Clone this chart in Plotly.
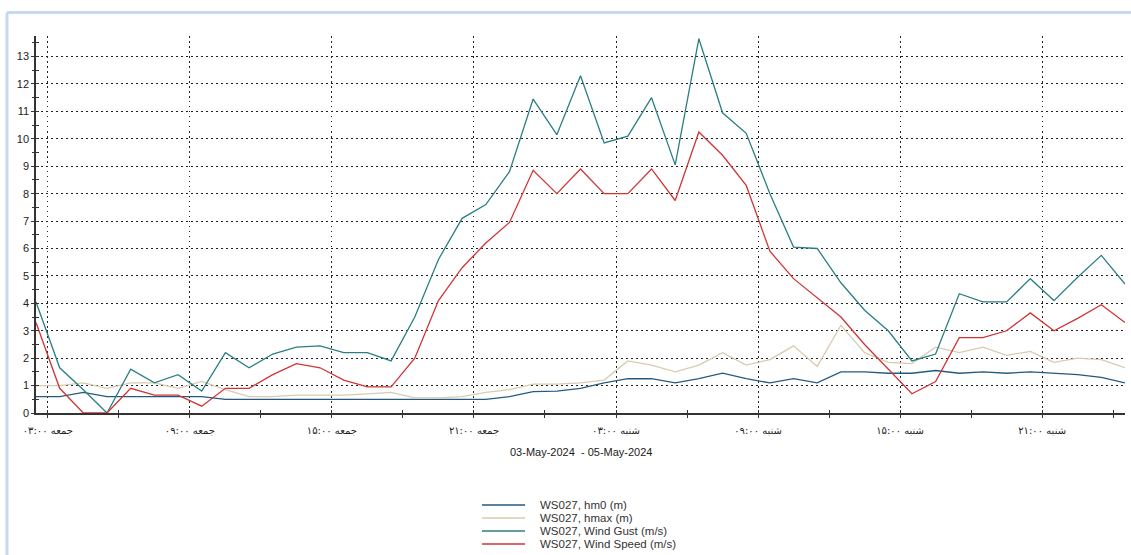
import pandas as pd
import plotly.graph_objects as go

# ---- data (hourly) ----
times = pd.date_range("2024-05-03 02:30", periods=47, freq="h")

hm0 = [0.6, 0.6, 0.75, 0.6, 0.6, 0.6, 0.6, 0.6, 0.5, 0.5,
       0.5, 0.5, 0.5, 0.5, 0.5, 0.5, 0.5, 0.5, 0.5, 0.5,
       0.6, 0.78, 0.8, 0.9, 1.1, 1.25, 1.25, 1.1, 1.25, 1.45,
       1.25, 1.1, 1.25, 1.1, 1.5, 1.5, 1.45, 1.45, 1.55, 1.45,
       1.5, 1.45, 1.5, 1.45, 1.4, 1.3, 1.1]

hmax = [1.0, 1.0, 1.1, 0.9, 1.1, 1.1, 0.9, 1.15, 0.85, 0.6,
        0.6, 0.65, 0.65, 0.65, 0.7, 0.75, 0.55, 0.55, 0.6, 0.75,
        0.85, 1.05, 1.05, 1.1, 1.2, 1.9, 1.75, 1.5, 1.75, 2.2,
        1.75, 1.95, 2.45, 1.7, 3.2, 2.2, 1.85, 1.8, 2.4, 2.2,
        2.4, 2.1, 2.25, 1.85, 2.0, 1.95, 1.65]

gust = [4.05, 1.65, 0.85, 0.0, 1.6, 1.1, 1.4, 0.8, 2.2, 1.65,
        2.15, 2.4, 2.45, 2.2, 2.2, 1.9, 3.5, 5.6, 7.1, 7.6,
        8.8, 11.45, 10.15, 12.3, 9.85, 10.1, 11.5, 9.05, 13.65, 10.95,
        10.2, 8.0, 6.05, 6.0, 4.75, 3.75, 3.0, 1.9, 2.15, 4.35,
        4.05, 4.05, 4.9, 4.1, 4.95, 5.75, 4.7]

speed = [3.3, 0.9, 0.0, 0.0, 0.9, 0.65, 0.65, 0.25, 0.9, 0.9,
         1.4, 1.8, 1.65, 1.2, 0.95, 0.95, 2.0, 4.1, 5.3, 6.2,
         6.95, 8.85, 8.0, 8.9, 8.0, 8.0, 8.9, 7.75, 10.25, 9.4,
         8.3, 5.9, 4.9, 4.2, 3.5, 2.5, 1.6, 0.7, 1.15, 2.75,
         2.75, 3.0, 3.65, 3.0, 3.45, 3.95, 3.3]

series_names = ["WS027, hm0 (m)", "WS027, hmax (m)",
                "WS027, Wind Gust (m/s)", "WS027, Wind Speed (m/s)"]
series_colors = ["#245a80", "#d8cbb0", "#2b7f82", "#d03535"]

major_ticks = pd.date_range("2024-05-03 03:00", periods=8, freq="6h")
major_labels = ["جمعه ۰۳:۰۰", "جمعه ۰۹:۰۰", "جمعه ۱۵:۰۰", "جمعه ۲۱:۰۰",
                "شنبه ۰۳:۰۰", "شنبه ۰۹:۰۰", "شنبه ۱۵:۰۰", "شنبه ۲۱:۰۰"]
all_ticks = pd.date_range("2024-05-03 03:00", periods=16, freq="3h")
x_title = "03-May-2024  - 05-May-2024"

x_range = ["2024-05-03 02:30", "2024-05-05 00:30"]
y_range = [0, 13.75]

FONT = "Liberation Sans, Arial, DejaVu Sans, sans-serif"

fig = go.Figure()
for name, vals, col in zip(series_names, [hm0, hmax, gust, speed], series_colors):
    fig.add_trace(go.Scatter(x=times, y=vals, mode="lines", name=name,
                             line=dict(color=col, width=1.3), showlegend=False))

# dummy trace so the overlay axes (inner half of crossing ticks) are drawn
fig.add_trace(go.Scatter(x=[], y=[], xaxis="x2", yaxis="y2",
                         showlegend=False, hoverinfo="skip"))

grid_dash = "1.5px,3.5px"
fig.update_layout(
    width=1131, height=555,
    margin=dict(l=36, r=6, t=36, b=142),
    paper_bgcolor="white", plot_bgcolor="white",
    font=dict(family=FONT, size=11, color="#222"),
    xaxis=dict(type="date", range=x_range, showline=True, linecolor="#333",
               linewidth=1.5, tickmode="array", tickvals=major_ticks,
               ticktext=major_labels, ticks="outside", ticklen=3,
               tickcolor="#333", tickwidth=1.3,
               tickfont=dict(family="DejaVu Sans, sans-serif", size=10, color="#222"),
               showgrid=True, gridcolor="#222", gridwidth=1, griddash=grid_dash,
               zeroline=False, ticklabelstandoff=4,
               minor=dict(tickmode="array", tickvals=all_ticks, ticks="outside",
                          ticklen=3, tickcolor="#333", tickwidth=1.3, showgrid=False)),
    yaxis=dict(range=y_range, tickmode="linear", tick0=0, dtick=1,
               showline=True, linecolor="#333", linewidth=1.5,
               ticks="outside", ticklen=3, tickcolor="#333", tickwidth=1.3,
               tickfont=dict(family=FONT, size=11, color="#222"),
               showgrid=True, gridcolor="#222", gridwidth=1, griddash=grid_dash,
               zeroline=False,
               minor=dict(dtick=0.5, tick0=0, ticks="outside", ticklen=2,
                          tickcolor="#333", showgrid=False)),
    xaxis2=dict(type="date", range=x_range, overlaying="x", anchor="y",
                tickmode="array", tickvals=all_ticks, ticks="inside", ticklen=3,
                tickcolor="#333", tickwidth=1.3, showticklabels=False,
                showgrid=False, showline=False, zeroline=False),
    yaxis2=dict(range=y_range, overlaying="y", anchor="x", side="left",
                tickmode="linear", tick0=0, dtick=0.5, ticks="inside", ticklen=3,
                tickcolor="#333", tickwidth=1.2, showticklabels=False,
                showgrid=False, showline=False, zeroline=False),
)

# x-axis caption
fig.add_annotation(text=x_title, xref="paper", yref="paper", x=0.5, y=-0.1034,
                   showarrow=False, xanchor="center", yanchor="middle",
                   font=dict(family=FONT, size=11, color="#222"))

# manual legend (compact rows like the reference)
plot_h = 413 - 36
rows_px = [505, 518, 531, 544]
for name, col, py in zip(series_names, series_colors, rows_px):
    yp = (413 - py) / plot_h
    fig.add_shape(type="line", xref="paper", yref="paper",
                  x0=(482 - 36) / 1089, x1=(525 - 36) / 1089, y0=yp, y1=yp,
                  line=dict(color=col, width=1.5))
    fig.add_annotation(text=name, xref="paper", yref="paper",
                       x=(538 - 36) / 1089, y=yp, showarrow=False,
                       xanchor="left", yanchor="middle",
                       font=dict(family=FONT, size=11.5, color="#333"))

# light-blue frame (left and top edges)
frame_col = "#c6d9f1"
x_left = (7 - 36) / 1089
y_top = (413 - 12.5) / plot_h
fig.add_shape(type="line", xref="paper", yref="paper", x0=x_left, x1=x_left,
              y0=-0.4, y1=y_top, line=dict(color=frame_col, width=3))
fig.add_shape(type="line", xref="paper", yref="paper", x0=x_left, x1=1.01,
              y0=y_top, y1=y_top, line=dict(color=frame_col, width=3))

fig.write_html("out.html", config={"displayModeBar": False},
               post_script="document.body.style.margin='0';")
